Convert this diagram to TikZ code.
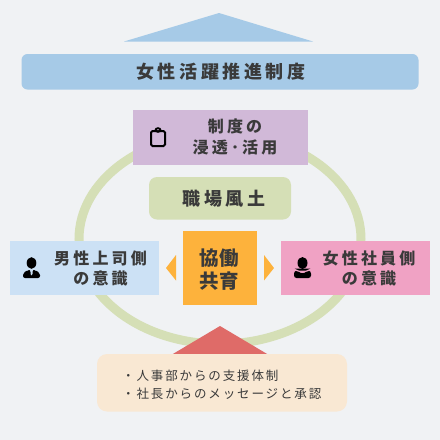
\documentclass[tikz,border=0pt]{standalone}
\usepackage{fontspec}
\setmainfont{Noto Sans CJK JP}
\newfontfamily\lsA{Noto Sans CJK JP}[LetterSpace=20]
\newfontfamily\lsB{Noto Sans CJK JP}[LetterSpace=2]
\newfontfamily\lsC{Noto Sans CJK JP}[LetterSpace=15]
\definecolor{bgc}{HTML}{F0F2F4}
\definecolor{sky}{HTML}{A6CAE7}
\definecolor{lilac}{HTML}{D1B9D8}
\definecolor{leaf}{HTML}{D5DFB6}
\definecolor{pale}{HTML}{CCE1F5}
\definecolor{rosa}{HTML}{F0A2C4}
\definecolor{amber}{HTML}{FDB23C}
\definecolor{redd}{HTML}{DF6B68}
\definecolor{cream}{HTML}{F9E8D3}
\definecolor{ink}{HTML}{3A3A3A}
\tikzset{x=1pt,y=-1pt,
 lab/.style={text=ink,align=center,inner sep=0pt}}
\begin{document}
\begin{tikzpicture}
\useasboundingbox (0,0) rectangle (440,440);
\fill[bgc] (0,0) rectangle (440,440);
% ring
\draw[leaf,line width=9pt] (220,239) ellipse [x radius=141pt,y radius=105pt];
% top
\fill[sky] (219,13) -- (313,41.5) -- (124,41.5) -- cycle;
\fill[sky,rounded corners=6pt] (21.5,54) rectangle (418.5,89.5);
\node[lab,font=\lsA\bfseries\fontsize{18}{20}\selectfont] (title) at (221,71.5) {女性活躍推進制度};
% purple
\fill[lilac] (132.5,110) rectangle (307.5,164.5);
\node[lab,font=\lsA\bfseries\fontsize{16}{21}\selectfont] (purple) at (235,136.5) {制度の\\浸透･活用};
\draw[black,line width=2pt,rounded corners=1.5pt] (151,131) rectangle (165,146);
\fill[black] (158,130) ellipse [x radius=3.5pt,y radius=2.8pt];
\fill[lilac] (158,129.6) circle (0.8pt);
% green
\fill[leaf,rounded corners=8pt] (149,177) rectangle (291,219.5);
\node[lab,font=\lsA\bfseries\fontsize{18}{20}\selectfont] (green) at (224,198.5) {職場風土};
% left
\fill[pale] (10,241) rectangle (158.5,295);
\node[lab,font=\lsA\bfseries\fontsize{16}{20}\selectfont] (left) at (100.5,268) {男性上司側\\の意識};
\fill[black] (31.5,263) ellipse [x radius=4.8pt,y radius=5.8pt];
\fill[black,rounded corners=2pt] (23,278) -- (23,273) -- (28,270) -- (30.5,270) -- (30.5,276) -- (32.5,276) -- (32.5,270) -- (35,270) -- (40,273) -- (40,278) -- cycle;
% right
\fill[rosa] (281,241) rectangle (430,295);
\node[lab,font=\lsA\bfseries\fontsize{16}{20}\selectfont] (right) at (369,268) {女性社員側\\の意識};
\fill[black] (302.5,263) ellipse [x radius=5pt,y radius=6pt];
\fill[black] (294.5,268.5) -- (310.5,268.5) -- (306,270.5) -- (299,270.5) -- cycle;
\fill[black,rounded corners=2.5pt] (294,278) -- (294,271) -- (297.5,271) -- (302.5,274) -- (307.5,271) -- (311,271) -- (311,278) -- cycle;
% center
\fill[amber] (183,231) rectangle (257,305);
\node[lab,font=\lsB\bfseries\fontsize{19.5}{23}\selectfont] (center) at (219.5,269.5) {協働\\共育};
\fill[amber] (176,255) -- (176,280.5) -- (166,268) -- cycle;
\fill[amber] (264,255) -- (264,280.5) -- (274,268) -- cycle;
% bottom
\fill[redd] (220,326) -- (268,354.5) -- (172,354.5) -- cycle;
\fill[cream,rounded corners=10pt] (97,354) rectangle (347,411.5);
\node[lab,font=\lsC\fontsize{12.5}{18}\selectfont,align=left,anchor=west] (note) at (122,384.5) {・人事部からの支援体制\\・社長からのメッセージと承認};
\end{tikzpicture}
\end{document}
